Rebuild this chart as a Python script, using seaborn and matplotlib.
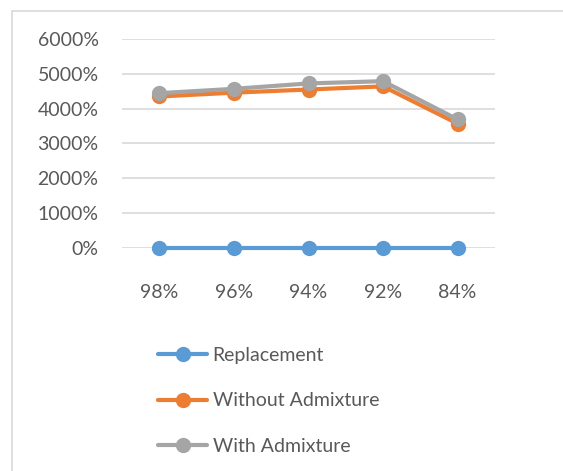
import pandas as pd
import matplotlib.pyplot as plt
import seaborn as sns
from matplotlib.patches import Rectangle
from matplotlib.ticker import FuncFormatter

categories = ['98%', '96%', '94%', '92%', '84%']
replacement = [0, 0, 0, 0, 0]
without_admix = [4350, 4460, 4550, 4640, 3570]
with_admix = [4445, 4570, 4725, 4790, 3690]
series_names = ['Replacement', 'Without Admixture', 'With Admixture']
colors = ['#5b9bd5', '#ed7d31', '#a5a5a5']

# long table for seaborn
rows = []
for name, vals in zip(series_names, [replacement, without_admix, with_admix]):
    for i, (c, v) in enumerate(zip(categories, vals)):
        rows.append({'pos': i, 'cat': c, 'value': v, 'series': name})
df = pd.DataFrame(rows)

sns.set_style('white')
plt.rcParams['font.family'] = ['Lato', 'DejaVu Sans']
text_col = '#595959'

fig = plt.figure(figsize=(5.63, 4.71), dpi=100)
ax = fig.add_axes([0.217, 0.474, 0.662, 0.443])

sns.lineplot(data=df, x='pos', y='value', hue='series', hue_order=series_names,
             palette=colors, marker='o', markersize=11, markeredgewidth=0,
             linewidth=3, ax=ax, legend=False)
for ln in ax.lines:
    ln.set_clip_on(False)

ax.set_ylim(0, 6000)
ax.set_xlim(-0.5, 4.5)
ax.set_yticks(range(0, 6001, 1000))
ax.yaxis.set_major_formatter(FuncFormatter(lambda v, p: f'{int(v)}%'))
ax.set_xticks(range(len(categories)))
ax.set_xticklabels(categories)
ax.grid(axis='y', color='#d9d9d9', linewidth=1.2)
ax.set_axisbelow(True)
for s in ax.spines.values():
    s.set_visible(False)
ax.tick_params(axis='both', length=0, labelsize=14, labelcolor=text_col)
ax.tick_params(axis='y', pad=17)
ax.tick_params(axis='x', pad=26)
ax.set_xlabel('')
ax.set_ylabel('')

# legend below the plot
handles = [plt.Line2D([], [], color=c, lw=3, marker='o', markersize=11, markeredgewidth=0)
           for c in colors]
fig.legend(handles, series_names, loc='upper left', bbox_to_anchor=(0.25, 0.30),
           frameon=False, fontsize=14, labelcolor=text_col, handlelength=2.5,
           handletextpad=0.3, labelspacing=1.45)

# outer chart frame
fig.patches.append(Rectangle((12 / 563, -0.05), 1.0, 1 - 11 / 471 + 0.05,
                             transform=fig.transFigure, fill=False,
                             edgecolor='#d9d9d9', linewidth=1.2))

fig.savefig('out.png', dpi=100)
